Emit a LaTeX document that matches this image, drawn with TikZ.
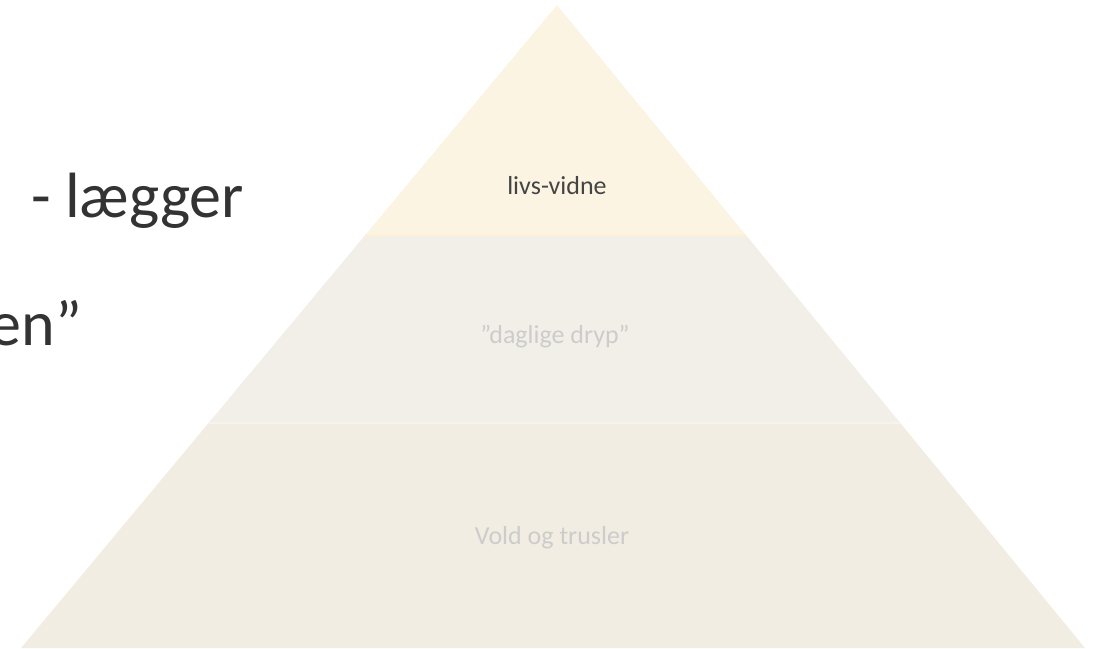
\documentclass[tikz,border=0pt]{standalone}
\usepackage{fontspec}
\setmainfont{Carlito}
\definecolor{topband}{RGB}{252, 244, 226}
\definecolor{midband}{RGB}{242, 239, 232}
\definecolor{lowband}{RGB}{242, 237, 226}
\definecolor{seamtop}{RGB}{255, 242, 212}
\definecolor{seamlow}{RGB}{246, 243, 237}
\definecolor{darktext}{RGB}{51, 51, 51}
\definecolor{labeldark}{RGB}{68, 68, 68}
\definecolor{labelpale}{RGB}{204, 204, 204}
\usetikzlibrary{positioning, calc}

\begin{document}
\begin{tikzpicture}[
    x=1pt, y=-1pt,
    band/.style={draw=none},
    seam/.style={line width=1.5pt},
    level/.style={font=\fontsize{26}{30}\selectfont, inner sep=0pt},
    bullet/.style={font=\fontsize{64}{76}\selectfont, text=darktext, inner sep=0pt}
]
    \useasboundingbox (0,0) rectangle (1094,648);

    % Corners
    \coordinate (apex) at (557,5);
    \coordinate (bl) at (21,648);
    \coordinate (br) at (1085,648);
    \coordinate (ml) at ($(apex)!0.3577!(bl)$);
    \coordinate (mr) at ($(apex)!0.3577!(br)$);
    \coordinate (ll) at ($(apex)!0.6501!(bl)$);
    \coordinate (lr) at ($(apex)!0.6501!(br)$);

    % Bands
    \fill[band, lowband] (ll) -- (lr) -- (br) -- (bl) -- cycle;
    \fill[band, midband] (ml) -- (mr) -- (lr) -- (ll) -- cycle;
    \fill[band, topband] (apex) -- (mr) -- (ml) -- cycle;
    \draw[seam, seamtop] (ml) -- (mr);
    \draw[seam, seamlow] (ll) -- (lr);

    % Labels
    \node[level, text=labeldark] (witness) at (557,186) {livs-vidne};
    \node[level, text=labelpale] (drops) at (555,337) {”daglige dryp”};
    \node[level, text=labelpale] (violence) at (552,538) {Vold og trusler};

    % Side text
    \node[bullet, anchor=base west] (lays) at (31,217) {- lægger};
    \node[bullet, anchor=base east] (quote) at (82,345) {en”};
\end{tikzpicture}
\end{document}
